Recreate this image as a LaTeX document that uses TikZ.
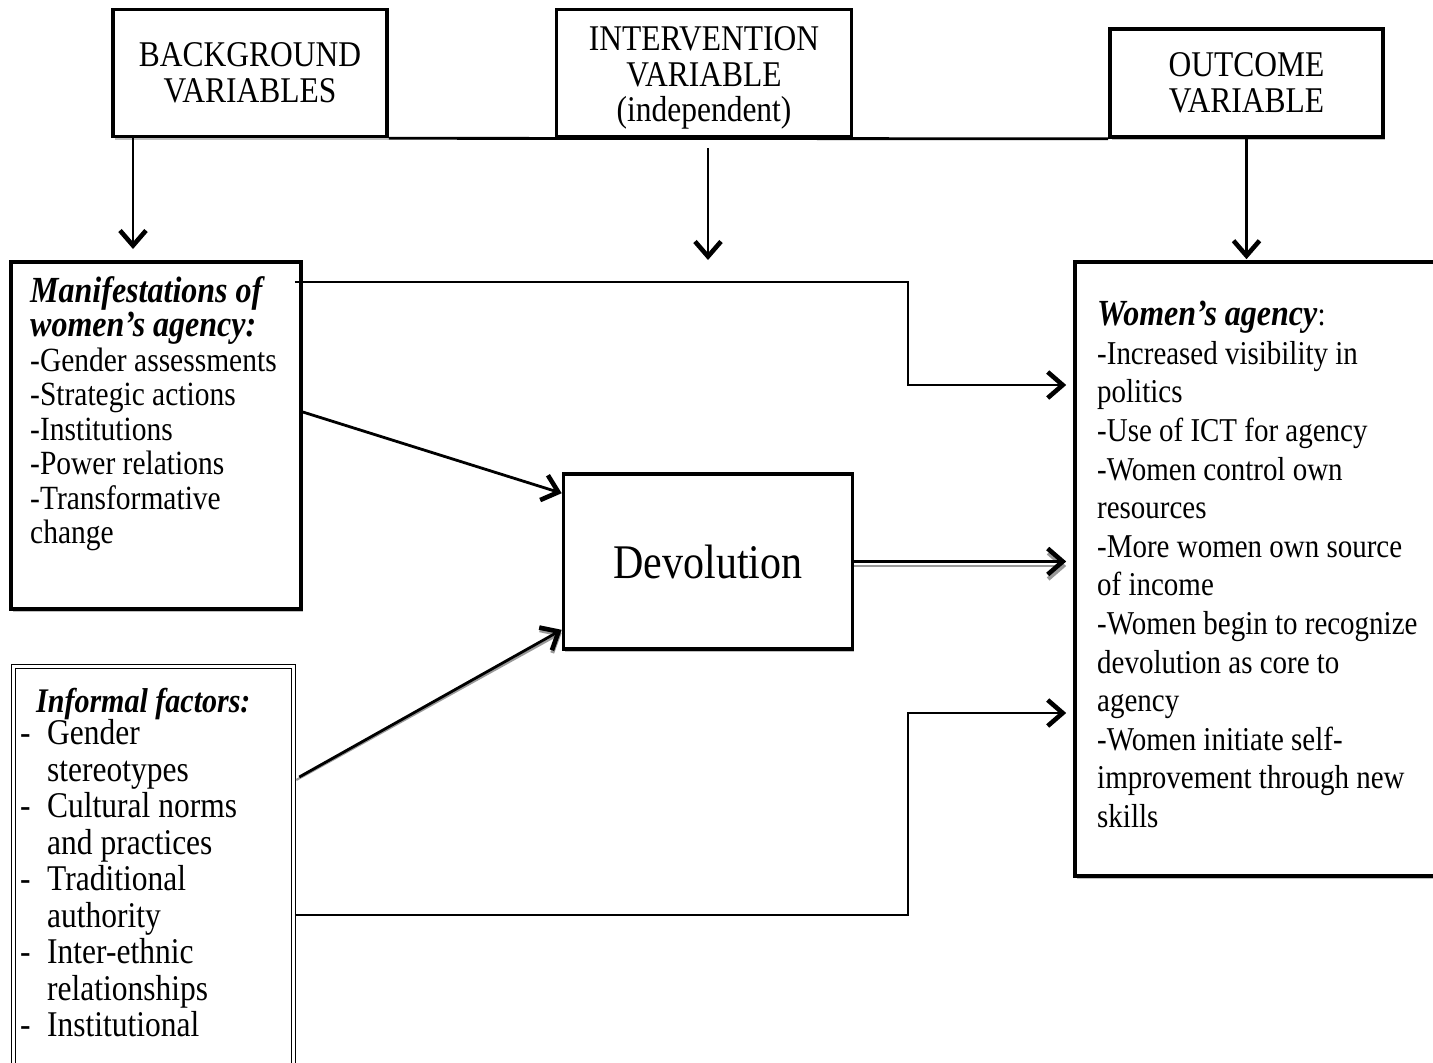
\documentclass[tikz,border=0pt]{standalone}
\usepackage{fontspec}
\setmainfont{Liberation Serif}[FakeStretch=0.87]
\usetikzlibrary{arrows.meta,calc,shadows}
\begin{document}
\begin{tikzpicture}[x=1pt,y=-1pt,
 box/.style={draw, fill=white, line width=3.6pt, rectangle, inner sep=0pt,
   drop shadow={shadow xshift=1.5pt, shadow yshift=-3pt, opacity=0.25, fill=black}},
 conn/.style={line width=2.8pt},
 arr/.style={conn, -{Straight Barb[length=15pt,width=26pt,line width=4.6pt]}},
 shd/.style={line width=2.2pt, black!40, -{Straight Barb[length=15pt,width=26pt,line width=4pt]}},
 hdr/.style={font=\fontsize{36.2}{35.5}\selectfont, align=center},
 lst/.style={anchor=north west, inner sep=0pt, align=left}]
\clip (0,0) rectangle (1433,1063);
\fill[white] (0,0) rectangle (1433,1063);

% top boxes
\node[box, minimum width=274pt, minimum height=127pt] (bg) at (250,73) {};
\node[hdr] (bgt) at (bg) {BACKGROUND\\VARIABLES};
\node[box, minimum width=295pt, minimum height=127pt] (iv) at (704,73) {};
\node[hdr] (ivt) at ([yshift=-5pt]iv.center) {INTERVENTION\\VARIABLE\\(independent)};
\node[box, minimum width=273pt, minimum height=108pt] (oc) at (1246.5,83) {};
\node[hdr] (oct) at (oc) {OUTCOME\\VARIABLE};
\draw[conn] (bg.south east) -- (oc.south west);

% main boxes
\node[box, minimum width=290pt, minimum height=347pt] (mf) at (156,435.5) {};
\node[lst, font=\fontsize{33.9}{34.5}\selectfont] (mft) at (30,276)
 {{\fontsize{36.8}{34.5}\selectfont\textbf{\textit{Manifestations of}}}\\
  {\fontsize{36.8}{34.5}\selectfont\textbf{\textit{women’s agency:}}}\\
  -Gender assessments\\-Strategic actions\\-Institutions\\-Power relations\\-Transformative\\change};

\node[box, minimum width=370pt, minimum height=614pt] (wa) at (1260,569) {};
\node[lst, font=\fontsize{33.3}{38.6}\selectfont] (wat) at (1097,301)
 {{\fontsize{36.8}{38.6}\selectfont\textbf{\textit{Women’s agency}}}:\\-Increased visibility in\\politics\\-Use of ICT for agency\\-Women control own\\resources\\-More women own source\\of income\\-Women begin to recognize\\devolution as core to\\agency\\-Women initiate self-\\improvement through new\\skills};

\node[box, minimum width=289pt, minimum height=175pt, font=\fontsize{48.3}{55}\selectfont] (dv) at (708,561.5) {Devolution};

\node[draw, line width=1.5pt, double, double distance=2.2pt, minimum width=280pt, minimum height=440pt, inner sep=0pt] (inf) at (153.5,886.5) {};
\node[lst, font=\bfseries\itshape\fontsize{34.5}{36}\selectfont] (inft) at (36,688) {Informal factors:};
\node[lst, font=\fontsize{36.2}{36.5}\selectfont] (infl) at (20,719.5)
 {\makebox[27pt][l]{-}Gender\\
  \hspace*{27pt}stereotypes\\
  \makebox[27pt][l]{-}Cultural norms\\
  \hspace*{27pt}and practices\\
  \makebox[27pt][l]{-}Traditional\\
  \hspace*{27pt}authority\\
  \makebox[27pt][l]{-}Inter-ethnic\\
  \hspace*{27pt}relationships\\
  \makebox[27pt][l]{-}Institutional};

% vertical arrows from the top
\coordinate (bgtip) at (133,249);
\draw[arr] (bg.south west -| bgtip) -- (bgtip);
\coordinate (ivtop) at (708,148);
\coordinate (ivtip) at (708,260);
\draw[arr] (ivtop) -- (ivtip);
\draw[arr, shorten >=1pt] (oc.south) -- (oc.south |- wa.north);

% connectors
\coordinate (k1) at (908,282);
\coordinate (y1) at (0,385);
\draw[arr, shorten >=7pt] ([xshift=-8pt]mf.east |- k1) -- (k1) |- (wa.west |- y1);

\coordinate (y2) at (0,412);
\draw[arr] (mf.east |- y2) -- ([yshift=-21pt]dv.north west);

\coordinate (y3) at (0,777);
\draw[shd] ([shift={(2pt,-3pt)}]inf.east |- y3) -- ([shift={(0pt,-3pt)}]$(dv.south west)+(0,-21)$);
\draw[arr] ([xshift=5pt]inf.east |- y3) -- ([yshift=21pt]dv.south west);

\draw[shd, shorten >=7pt] ([yshift=-4.5pt]dv.east) -- ([yshift=-4.5pt]wa.west |- dv.east);
\draw[arr, shorten >=7pt] (dv.east) -- (wa.west |- dv.east);

\coordinate (k5) at (908,915);
\coordinate (y5) at (0,713);
\draw[arr, shorten >=7pt] ([xshift=2pt]inf.east |- k5) -- (k5) |- (wa.west |- y5);
\end{tikzpicture}
\end{document}
